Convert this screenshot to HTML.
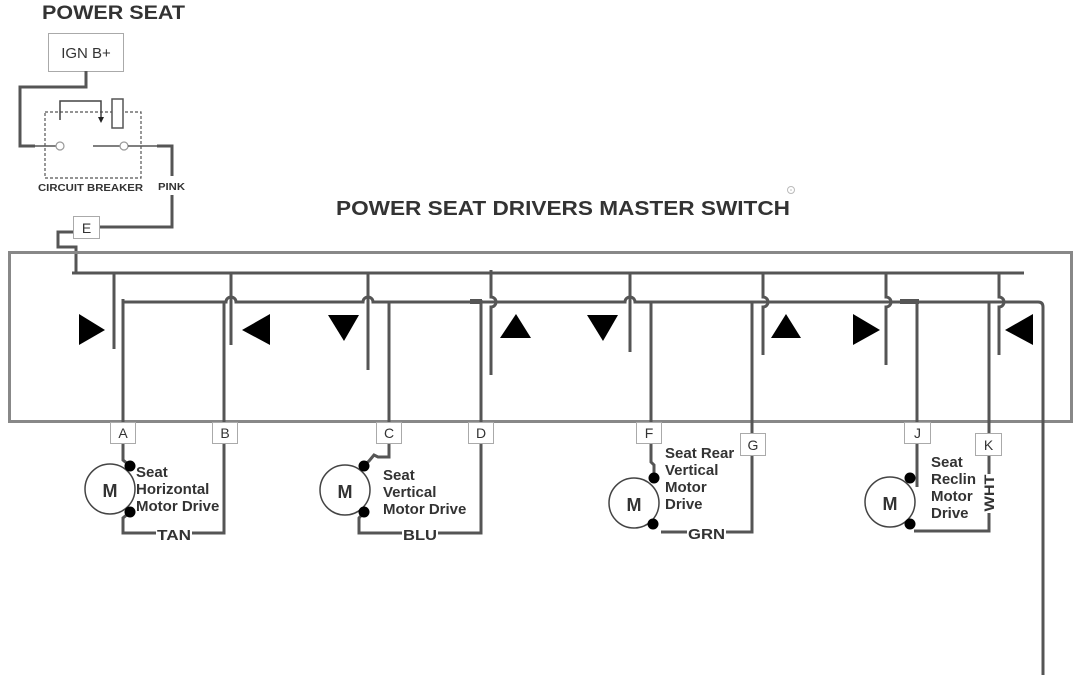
<!DOCTYPE html>
<html>
<head>
<meta charset="utf-8">
<style>
html,body{margin:0;padding:0;background:#fff;}
svg{display:block;}
text{font-family:"Liberation Sans",Arial,sans-serif;fill:#333;}
</style>
</head>
<body>
<svg width="1080" height="675" viewBox="0 0 1080 675" xmlns="http://www.w3.org/2000/svg">
<rect x="0" y="0" width="1080" height="675" fill="#fff"/>

<!-- Titles -->
<text x="42" y="19" font-size="19" font-weight="bold" textLength="143" lengthAdjust="spacingAndGlyphs">POWER SEAT</text>
<text x="336" y="215" font-size="20" font-weight="bold" textLength="454" lengthAdjust="spacingAndGlyphs">POWER SEAT DRIVERS MASTER SWITCH</text>
<circle cx="791" cy="190" r="3.5" fill="none" stroke="#bbb" stroke-width="1"/>
<circle cx="791" cy="190" r="0.8" fill="#bbb"/>

<!-- IGN B+ box -->
<rect x="48.5" y="33.5" width="75" height="38" fill="#fff" stroke="#aaa" stroke-width="1"/>
<text x="86" y="58" font-size="15" text-anchor="middle">IGN B+</text>

<!-- Power feed wire -->
<path d="M86,71 V87 H20 V146 H35" fill="none" stroke="#555" stroke-width="3"/>
<line x1="35" y1="146" x2="56" y2="146" stroke="#555" stroke-width="1.5"/>
<circle cx="60" cy="146" r="4" fill="#fff" stroke="#999" stroke-width="1.2"/>
<line x1="93" y1="146" x2="120" y2="146" stroke="#555" stroke-width="1.5"/>
<circle cx="124" cy="146" r="4" fill="#fff" stroke="#999" stroke-width="1.2"/>
<line x1="128" y1="146" x2="157" y2="146" stroke="#555" stroke-width="1.5"/>

<!-- circuit breaker dashed box -->
<rect x="45" y="112" width="96" height="66" fill="none" stroke="#555" stroke-width="1.2" stroke-dasharray="3,2"/>
<path d="M60,120 V101 H101 V117" fill="none" stroke="#444" stroke-width="1.5"/>
<polygon points="98,117 104,117 101,123" fill="#222"/>
<rect x="112" y="99" width="11" height="29" fill="#fff" stroke="#555" stroke-width="1.5"/>

<text x="38" y="191" font-size="10.5" font-weight="bold" textLength="105" lengthAdjust="spacingAndGlyphs">CIRCUIT BREAKER</text>
<text x="158" y="190" font-size="10.5" font-weight="bold" textLength="27" lengthAdjust="spacingAndGlyphs">PINK</text>

<path d="M157,146 H172 V176" fill="none" stroke="#555" stroke-width="3"/>
<path d="M172,195 V227 H99" fill="none" stroke="#555" stroke-width="3"/>

<!-- E feed -->
<path d="M73,232 H58 V247 H76 V273" fill="none" stroke="#555" stroke-width="3"/>
<rect x="73.5" y="216.5" width="26" height="22" fill="#fff" stroke="#aaa" stroke-width="1"/>
<text x="86.5" y="233" font-size="14" text-anchor="middle">E</text>

<!-- Outer switch rectangle -->
<rect x="9.5" y="252.5" width="1062" height="169" fill="none" stroke="#888" stroke-width="3"/>

<!-- Top bus -->
<line x1="72" y1="273" x2="1024" y2="273" stroke="#555" stroke-width="3"/>

<!-- Second bus with hops -->
<path d="M123,302 H226 A5,5 0 0 1 236,302 H363 A5,5 0 0 1 373,302 H625 A5,5 0 0 1 635,302 H1038 Q1043,302 1043,307 V675" fill="none" stroke="#555" stroke-width="3"/>

<!-- Switch verticals -->
<line x1="114" y1="273" x2="114" y2="349" stroke="#555" stroke-width="3"/>
<line x1="231" y1="273" x2="231" y2="345" stroke="#555" stroke-width="3"/>
<line x1="368" y1="273" x2="368" y2="370" stroke="#555" stroke-width="3"/>
<path d="M491,270 V297 A5,5 0 0 1 491,307 V375" fill="none" stroke="#555" stroke-width="3"/>
<line x1="630" y1="273" x2="630" y2="352" stroke="#555" stroke-width="3"/>
<path d="M763,273 V297 A5,5 0 0 1 763,307 V355" fill="none" stroke="#555" stroke-width="3"/>
<path d="M886,273 V297 A5,5 0 0 1 886,307 V365" fill="none" stroke="#555" stroke-width="3"/>
<path d="M999,273 V297 A5,5 0 0 1 999,307 V355" fill="none" stroke="#555" stroke-width="3"/>

<!-- Output wires -->
<line x1="123" y1="299" x2="123" y2="422" stroke="#555" stroke-width="3"/>
<line x1="224" y1="302" x2="224" y2="422" stroke="#555" stroke-width="3"/>
<line x1="389" y1="302" x2="389" y2="422" stroke="#555" stroke-width="3"/>
<rect x="470" y="299" width="12" height="5" fill="#555"/>
<line x1="481" y1="300" x2="481" y2="422" stroke="#555" stroke-width="3"/>
<line x1="651" y1="302" x2="651" y2="422" stroke="#555" stroke-width="3"/>
<line x1="752" y1="302" x2="752" y2="433" stroke="#555" stroke-width="3"/>
<rect x="900" y="299" width="19" height="5" fill="#555"/>
<line x1="917" y1="300" x2="917" y2="422" stroke="#555" stroke-width="3"/>
<line x1="989" y1="302" x2="989" y2="433" stroke="#555" stroke-width="3"/>

<!-- Arrows -->
<polygon points="79,314 79,345 105,330" fill="#000"/>
<polygon points="270,314 270,345 242,330" fill="#000"/>
<polygon points="328,315 359,315 344,341" fill="#000"/>
<polygon points="500,338 531,338 516,314" fill="#000"/>
<polygon points="587,315 618,315 603,341" fill="#000"/>
<polygon points="771,338 801,338 786,314" fill="#000"/>
<polygon points="853,314 853,345 880,330" fill="#000"/>
<polygon points="1033,314 1033,345 1005,330" fill="#000"/>

<!-- Motor A (horizontal) -->
<path d="M123,443 V460 L130,466" fill="none" stroke="#555" stroke-width="3"/>
<path d="M130,512 L123,518 V533 H224 V443" fill="none" stroke="#555" stroke-width="3"/>
<circle cx="110" cy="489" r="25" fill="#fff" stroke="#444" stroke-width="1.5"/>
<text x="110" y="497" font-size="18" font-weight="bold" text-anchor="middle">M</text>
<circle cx="130" cy="466" r="5.5" fill="#000"/>
<circle cx="130" cy="512" r="5.5" fill="#000"/>
<text font-size="15" font-weight="bold"><tspan x="136" y="477">Seat</tspan><tspan x="136" y="494">Horizontal</tspan><tspan x="136" y="511">Motor Drive</tspan></text>
<rect x="156" y="526" width="36" height="15" fill="#fff"/>
<text x="157" y="540" font-size="15" font-weight="bold" textLength="34" lengthAdjust="spacingAndGlyphs">TAN</text>

<!-- Motor C (vertical) -->
<path d="M389,443 V457 H378 L374,455 L369,461 L364,465" fill="none" stroke="#555" stroke-width="3"/>
<path d="M364,512 L359,518 V533 H481 V443" fill="none" stroke="#555" stroke-width="3"/>
<circle cx="345" cy="490" r="25" fill="#fff" stroke="#444" stroke-width="1.5"/>
<text x="345" y="498" font-size="18" font-weight="bold" text-anchor="middle">M</text>
<circle cx="364" cy="466" r="5.5" fill="#000"/>
<circle cx="364" cy="512" r="5.5" fill="#000"/>
<text font-size="15" font-weight="bold"><tspan x="383" y="480">Seat</tspan><tspan x="383" y="497">Vertical</tspan><tspan x="383" y="514">Motor Drive</tspan></text>
<rect x="402" y="526" width="36" height="15" fill="#fff"/>
<text x="403" y="540" font-size="15" font-weight="bold" textLength="34" lengthAdjust="spacingAndGlyphs">BLU</text>

<!-- Motor F (rear vertical) -->
<path d="M651,443 V462 L654,465 V478" fill="none" stroke="#555" stroke-width="3"/>
<path d="M661,532 H752 V455" fill="none" stroke="#555" stroke-width="3"/>
<circle cx="634" cy="503" r="25" fill="#fff" stroke="#444" stroke-width="1.5"/>
<text x="634" y="511" font-size="18" font-weight="bold" text-anchor="middle">M</text>
<circle cx="654" cy="478" r="5.5" fill="#000"/>
<circle cx="653" cy="524" r="5.5" fill="#000"/>
<text font-size="15" font-weight="bold"><tspan x="665" y="458">Seat Rear</tspan><tspan x="665" y="475">Vertical</tspan><tspan x="665" y="492">Motor</tspan><tspan x="665" y="509">Drive</tspan></text>
<rect x="687" y="525" width="39" height="15" fill="#fff"/>
<text x="688" y="539" font-size="15" font-weight="bold" textLength="37" lengthAdjust="spacingAndGlyphs">GRN</text>

<!-- Motor J (recline) -->
<line x1="917" y1="443" x2="917" y2="487" stroke="#555" stroke-width="3"/>
<path d="M914,531 H989 V455" fill="none" stroke="#555" stroke-width="3"/>
<circle cx="890" cy="502" r="25" fill="#fff" stroke="#444" stroke-width="1.5"/>
<text x="890" y="510" font-size="18" font-weight="bold" text-anchor="middle">M</text>
<circle cx="910" cy="478" r="5.5" fill="#000"/>
<circle cx="910" cy="524" r="5.5" fill="#000"/>
<text font-size="15" font-weight="bold"><tspan x="931" y="467">Seat</tspan><tspan x="931" y="484">Reclin</tspan><tspan x="931" y="501">Motor</tspan><tspan x="931" y="518">Drive</tspan></text>
<rect x="982" y="474" width="15" height="39" fill="#fff"/>
<text x="0" y="0" font-size="14" font-weight="bold" text-anchor="middle" textLength="37" lengthAdjust="spacingAndGlyphs" transform="translate(994,493) rotate(-90)">WHT</text>

<!-- Connector boxes -->
<g stroke="#aaa" stroke-width="1" fill="#fff">
<rect x="110.5" y="422.5" width="25" height="21"/>
<rect x="212.5" y="422.5" width="25" height="21"/>
<rect x="376.5" y="422.5" width="25" height="21"/>
<rect x="468.5" y="422.5" width="25" height="21"/>
<rect x="636.5" y="422.5" width="25" height="21"/>
<rect x="740.5" y="433.5" width="25" height="22"/>
<rect x="904.5" y="422.5" width="26" height="21"/>
<rect x="975.5" y="433.5" width="26" height="22"/>
</g>
<g font-size="14" text-anchor="middle">
<text x="123" y="438">A</text>
<text x="225" y="438">B</text>
<text x="389" y="438">C</text>
<text x="481" y="438">D</text>
<text x="649" y="438">F</text>
<text x="753" y="450">G</text>
<text x="917.5" y="438">J</text>
<text x="988.5" y="450">K</text>
</g>
</svg>
</body>
</html>
